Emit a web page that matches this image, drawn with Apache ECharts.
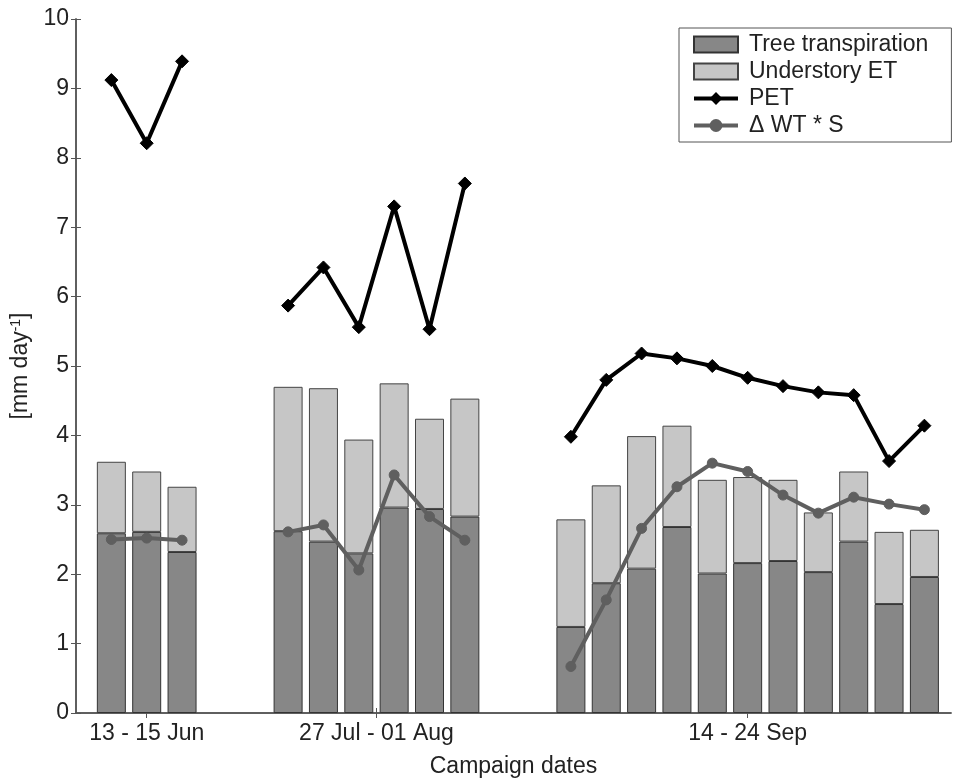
<!DOCTYPE html>
<html>
<head>
<meta charset="utf-8">
<script src="https://cdn.jsdelivr.net/npm/echarts@6/dist/echarts.min.js"></script>
<style>
html,body{margin:0;padding:0;background:#fff;}
#chart{width:953px;height:780px;}
</style>
</head>
<body>
<div id="chart"></div>
<script>
// Campaign groups (day slots along x) and labels
const campaignLabels = ['13 - 15 Jun', '27 Jul - 01 Aug', '14 - 24 Sep'];
const groupDays = [
  [1, 2, 3],
  [6, 7, 8, 9, 10, 11],
  [14, 15, 16, 17, 18, 19, 20, 21, 22, 23, 24]
];
// Values (mm day-1), in day order
const treeTranspiration = [2.59, 2.61, 2.32, 2.62, 2.47, 2.30, 2.96, 2.94, 2.83, 1.24, 1.87, 2.08, 2.68, 2.01, 2.16, 2.19, 2.03, 2.47, 1.57, 1.96];
const understoryET = [1.03, 0.87, 0.94, 2.08, 2.21, 1.64, 1.79, 1.30, 1.70, 1.55, 1.41, 1.91, 1.46, 1.35, 1.24, 1.17, 0.86, 1.01, 1.04, 0.68];
const pet = [9.12, 8.21, 9.39, 5.87, 6.42, 5.56, 7.30, 5.53, 7.63, 3.98, 4.80, 5.18, 5.11, 5.00, 4.83, 4.71, 4.62, 4.58, 3.63, 4.14];
const dWTS = [2.50, 2.52, 2.49, 2.61, 2.71, 2.06, 3.43, 2.83, 2.49, 0.67, 1.63, 2.66, 3.26, 3.60, 3.48, 3.14, 2.88, 3.11, 3.01, 2.93];
const yTicks = [0, 1, 2, 3, 4, 5, 6, 7, 8, 9, 10];

const days = groupDays.flat();
const lastSlot = days[days.length - 1];
const slots = Array.from({ length: lastSlot + 1 }, (_, i) => String(i));
const centers = groupDays.map(g => (g[0] + g[g.length - 1]) / 2);

// Put each value in its day slot; empty slots are null (gaps / line breaks)
function slotData(vals) {
  const out = slots.map(() => null);
  days.forEach((d, i) => { out[d] = vals[i]; });
  return out;
}

const FONT = 'Liberation Sans, Arial, sans-serif';
const FS = 23;
const axisColor = '#555';
const SLOT = 35.35;           // px per day slot
const PLOT_LEFT = 76, PLOT_RIGHT_EDGE = 951;
const chart = echarts.init(document.getElementById('chart'));
chart.setOption({
  animation: false,
  backgroundColor: '#fff',
  textStyle: { fontFamily: FONT },
  grid: [
    // data grid: slot 0 on left frame edge, last slot on its right edge
    { left: PLOT_LEFT, width: SLOT * lastSlot, top: 19, bottom: 67, outerBoundsMode: 'none', containLabel: false },
    // frame grid
    { left: PLOT_LEFT, right: 953 - PLOT_RIGHT_EDGE, top: 19, bottom: 67, outerBoundsMode: 'none', containLabel: false }
  ],
  legend: {
    orient: 'vertical',
    left: 679,
    top: 28,
    padding: [5, 23, 5, 13],
    itemWidth: 44,
    itemHeight: 16,
    itemGap: 4,
    borderColor: '#555',
    borderWidth: 1,
    backgroundColor: '#fff',
    lineStyle: { width: 4 },
    textStyle: { fontSize: FS, color: '#222', fontFamily: FONT, padding: [0, 0, 0, 6] },
    data: [
      { name: 'Tree transpiration', icon: 'rect' },
      { name: 'Understory ET', icon: 'rect' },
      { name: 'PET' },
      { name: 'Δ WT * S' }
    ]
  },
  xAxis: [{
    type: 'category',
    gridIndex: 0,
    data: slots,
    boundaryGap: false,
    show: false
  }, {
    type: 'value',
    gridIndex: 1,
    min: 0, max: (PLOT_RIGHT_EDGE - PLOT_LEFT) / SLOT,
    position: 'bottom',
    name: 'Campaign dates',
    nameLocation: 'middle',
    nameGap: 42,
    nameTextStyle: { fontSize: FS, color: '#222' },
    splitLine: { show: false },
    axisLine: { show: true, lineStyle: { color: axisColor, width: 1.5 } },
    axisTick: { show: true, inside: true, length: 5, customValues: centers, lineStyle: { color: axisColor } },
    axisLabel: {
      customValues: centers,
      fontSize: FS, color: '#222', margin: 9,
      formatter: v => campaignLabels[centers.indexOf(v)] || ''
    }
  }, {
    type: 'value',
    gridIndex: 1,
    min: 0, max: (PLOT_RIGHT_EDGE - PLOT_LEFT) / SLOT,
    position: 'top',
    splitLine: { show: false },
    axisLine: { show: true, lineStyle: { color: axisColor, width: 1.5 } },
    axisTick: { show: true, inside: true, length: 5, customValues: centers, lineStyle: { color: axisColor } },
    axisLabel: { show: false }
  }],
  yAxis: [{
    type: 'value',
    gridIndex: 0,
    min: 0, max: 10, interval: 1,
    show: false
  }, {
    type: 'value',
    gridIndex: 1,
    min: 0, max: 10, interval: 1,
    position: 'left',
    name: '[mm day{sup|-1}]',
    nameLocation: 'middle',
    nameGap: 44,
    nameRotate: 90,
    nameTextStyle: {
      fontSize: FS, color: '#222',
      rich: { sup: { fontSize: 14, verticalAlign: 'top', color: '#222', padding: [0, 0, 8, 0] } }
    },
    splitLine: { show: false },
    axisLine: { show: true, lineStyle: { color: axisColor, width: 1.5 } },
    axisTick: { show: true, inside: true, length: 5, lineStyle: { color: axisColor } },
    axisLabel: { fontSize: FS, color: '#222', margin: 7, customValues: yTicks }
  }, {
    type: 'value',
    gridIndex: 1,
    min: 0, max: 10, interval: 1,
    position: 'right',
    splitLine: { show: false },
    axisLine: { show: true, lineStyle: { color: axisColor, width: 1.5 } },
    axisTick: { show: true, inside: true, length: 5, lineStyle: { color: axisColor } },
    axisLabel: { show: false }
  }],
  series: [{
    name: 'Tree transpiration',
    type: 'bar',
    xAxisIndex: 0, yAxisIndex: 0,
    stack: 'et',
    barWidth: 29,
    itemStyle: { color: '#878787', borderColor: '#333', borderWidth: 1 },
    data: slotData(treeTranspiration)
  }, {
    name: 'Understory ET',
    type: 'bar',
    xAxisIndex: 0, yAxisIndex: 0,
    stack: 'et',
    barWidth: 29,
    itemStyle: { color: '#c6c6c6', borderColor: '#444', borderWidth: 1 },
    data: slotData(understoryET)
  }, {
    name: 'PET',
    type: 'line',
    xAxisIndex: 0, yAxisIndex: 0,
    z: 5,
    connectNulls: false,
    symbol: 'diamond',
    symbolSize: 13,
    lineStyle: { color: '#000', width: 4 },
    itemStyle: { color: '#000', borderColor: '#000' },
    data: slotData(pet)
  }, {
    name: 'Δ WT * S',
    type: 'line',
    xAxisIndex: 0, yAxisIndex: 0,
    z: 4,
    connectNulls: false,
    symbol: 'circle',
    symbolSize: 10,
    lineStyle: { color: '#5f5f5f', width: 4 },
    itemStyle: { color: '#5f5f5f', borderColor: '#5f5f5f' },
    data: slotData(dWTS)
  }]
});
</script>
</body>
</html>
